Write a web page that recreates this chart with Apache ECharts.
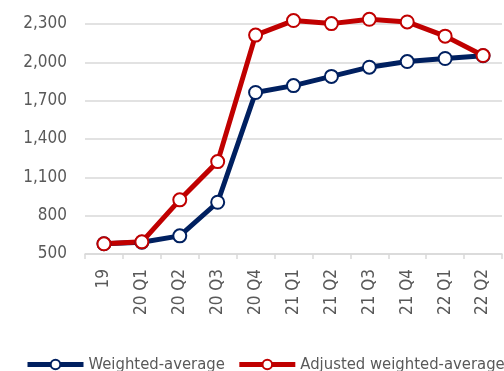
<!DOCTYPE html>
<html>
<head>
<meta charset="utf-8">
<script src="https://cdn.jsdelivr.net/npm/echarts@6/dist/echarts.min.js"></script>
<style>
  html, body { margin: 0; padding: 0; background: #fff; }
  #chart { width: 504px; height: 371px; }
</style>
</head>
<body>
<div id="chart"></div>
<script>
// Quarterly periods on the category axis
const categories = ['19', '20 Q1', '20 Q2', '20 Q3', '20 Q4', '21 Q1', '21 Q2', '21 Q3', '21 Q4', '22 Q1', '22 Q2'];
// Series values
const weightedAverage = [580, 592, 642, 905, 1764, 1818, 1890, 1962, 2006, 2030, 2052];
const adjustedWeightedAverage = [580, 595, 924, 1223, 2213, 2327, 2303, 2337, 2316, 2205, 2053];
// Value-axis range
const yMin = 500, yMax = 2300, yStep = 300;

const fontFamily = '"DejaVu Sans Condensed", "Liberation Sans", sans-serif';
const textColor = '#595959';
const gridColor = '#d9d9d9';

function lineSeries(name, data, color) {
  return {
    name: name,
    type: 'line',
    data: data,
    clip: false,
    symbol: 'circle',
    symbolSize: 13,
    lineStyle: { color: color, width: 5 },
    itemStyle: { color: '#fff', borderColor: color, borderWidth: 2 },
    emphasis: { disabled: true },
    animation: false
  };
}

const chart = echarts.init(document.getElementById('chart'));
chart.setOption({
  animation: false,
  grid: { left: 85, right: 2, top: 24, bottom: 117 },
  legend: {
    top: 356,
    left: 25,
    padding: 0,
    width: 900,
    itemWidth: 56,
    itemHeight: 12,
    itemGap: 12,
    lineStyle: { width: 5 },
    textStyle: { color: textColor, fontFamily: fontFamily, fontSize: 16.5 },
    data: ['Weighted-average', 'Adjusted weighted-average']
  },
  xAxis: {
    type: 'category',
    data: categories,
    boundaryGap: true,
    axisLine: { lineStyle: { color: gridColor, width: 1.5 } },
    axisTick: { show: true, length: 5, lineStyle: { color: gridColor, width: 1.5 } },
    axisLabel: { rotate: 90, margin: 15, color: textColor, fontFamily: fontFamily, fontSize: 17 }
  },
  yAxis: {
    type: 'value',
    min: yMin,
    max: yMax,
    interval: yStep,
    axisLine: { show: false },
    axisTick: { show: false },
    splitLine: { lineStyle: { color: gridColor, width: 1.5 } },
    axisLabel: {
      margin: 18,
      color: textColor,
      fontFamily: fontFamily,
      fontSize: 17,
      formatter: v => v.toLocaleString('en-US')
    }
  },
  series: [
    lineSeries('Weighted-average', weightedAverage, '#002060'),
    lineSeries('Adjusted weighted-average', adjustedWeightedAverage, '#c00000')
  ]
});
</script>
</body>
</html>
